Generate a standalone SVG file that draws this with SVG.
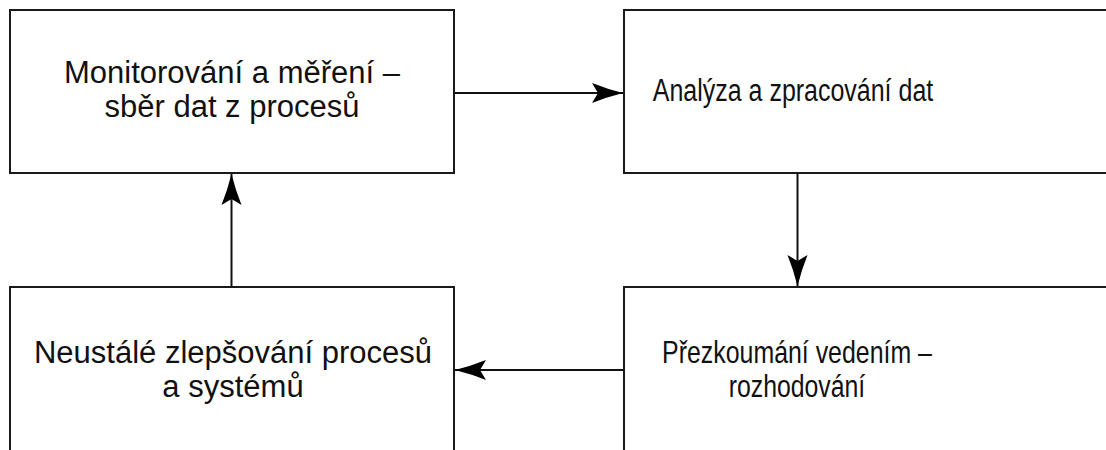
<svg xmlns="http://www.w3.org/2000/svg" width="1106" height="450" viewBox="0 0 1106 450">
  <style>
    .box { fill: #ffffff; stroke: #1a1a1a; stroke-width: 2; }
    .lbl { font-family: "Liberation Sans", Arial, sans-serif; font-size: 31px; fill: #111111; text-anchor: middle; }
    .edge { fill: none; stroke: #111111; stroke-width: 2; }
  </style>
  <defs>
    <marker id="arrow" viewBox="-34 -12 36 24" refX="0" refY="0" markerWidth="36" markerHeight="24" markerUnits="userSpaceOnUse" orient="auto">
      <path d="M0,0 Q-16,-4 -31,-10 L-25,0 L-31,10 Q-16,4 0,0 Z" fill="#000000"/>
    </marker>
  </defs>
  <rect width="1106" height="450" fill="#ffffff"/>

  <g id="monitoring">
    <rect class="box" x="10" y="10" width="444" height="163"/>
    <text class="lbl" x="232" y="83">Monitorování a měření –</text>
    <text class="lbl" x="232" y="117">sběr dat z procesů</text>
  </g>

  <g id="analysis">
    <rect class="box" x="624" y="10" width="500" height="163"/>
    <!-- condensed lettering -->
    <g transform="translate(793,101) scale(0.806,1)">
      <text class="lbl" x="0" y="0">Analýza a zpracování dat</text>
    </g>
  </g>

  <g id="review">
    <rect class="box" x="624" y="287" width="500" height="200"/>
    <g transform="translate(797,363) scale(0.803,1)">
      <text class="lbl" x="0" y="0">Přezkoumání vedením –</text>
    </g>
    <g transform="translate(797,397) scale(0.8,1)">
      <text class="lbl" x="0" y="0">rozhodování</text>
    </g>
  </g>

  <g id="improvement">
    <rect class="box" x="10" y="287" width="444" height="200"/>
    <text class="lbl" x="233" y="363">Neustálé zlepšování procesů</text>
    <text class="lbl" x="233" y="397">a systémů</text>
  </g>

  <g id="connectors">
    <line class="edge" x1="454" y1="93" x2="623" y2="93" marker-end="url(#arrow)"/>
    <line class="edge" x1="797.5" y1="173" x2="797.5" y2="286" marker-end="url(#arrow)"/>
    <line class="edge" x1="624" y1="370" x2="455" y2="370" marker-end="url(#arrow)"/>
    <line class="edge" x1="231.5" y1="287" x2="231.5" y2="174" marker-end="url(#arrow)"/>
  </g>
</svg>
